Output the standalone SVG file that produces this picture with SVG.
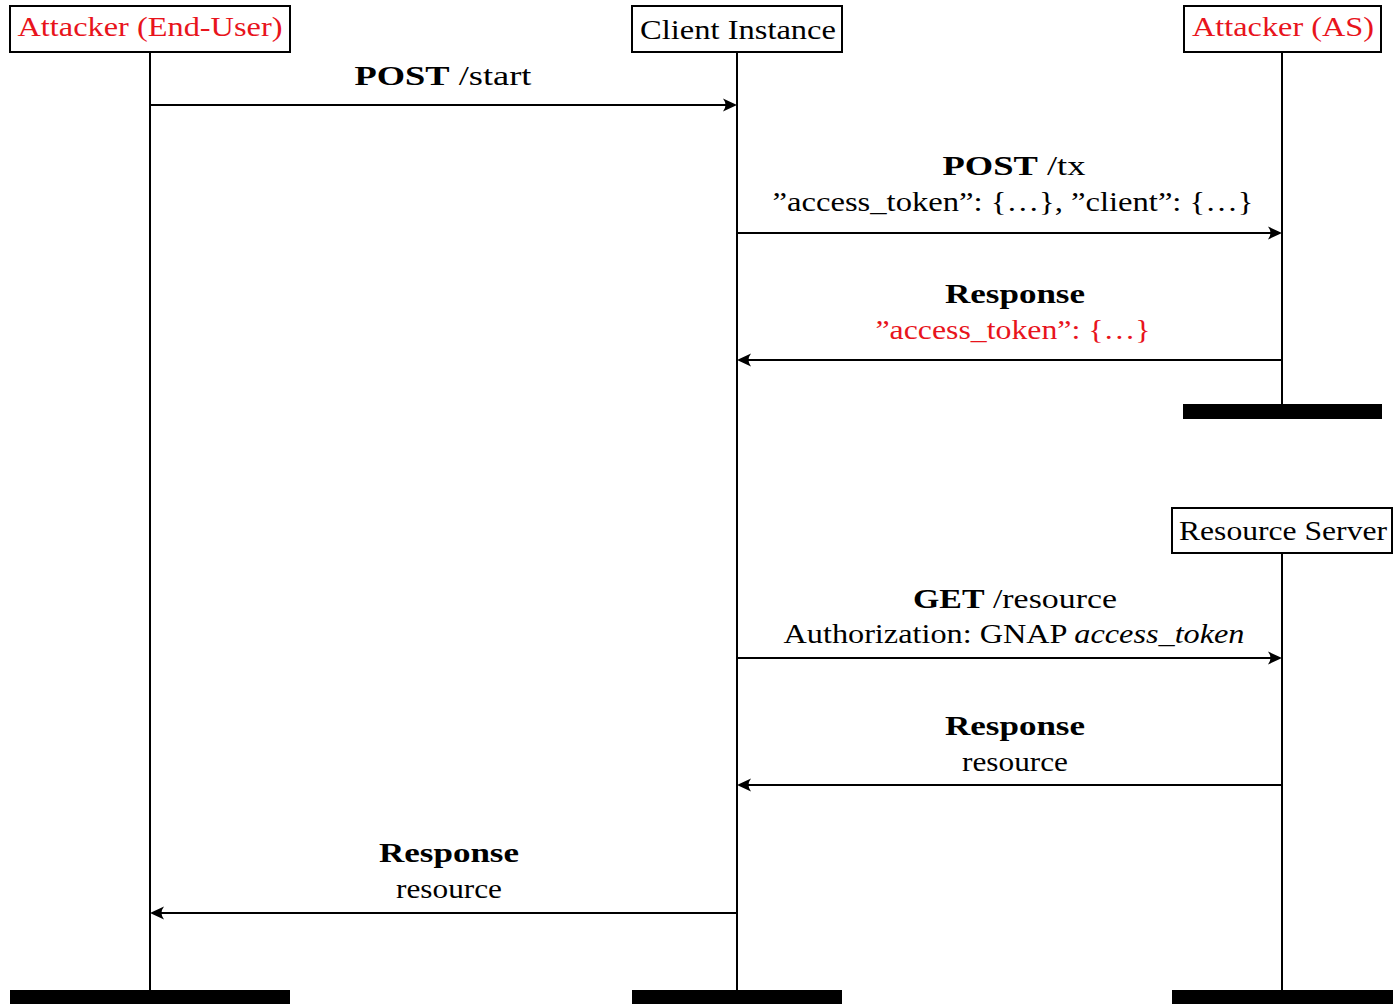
<svg xmlns="http://www.w3.org/2000/svg" width="1393" height="1004" viewBox="0 0 1393 1004">
<style>
  .box { fill: #fff; stroke: #000; stroke-width: 2; }
  .life { stroke: #000; stroke-width: 2; fill: none; }
  .bar { fill: #000; }
  .lbl { font-family: "Liberation Serif", "DejaVu Serif", serif; font-size: 28px; fill: #000; text-anchor: middle; }
  .red { fill: #e8141c; }
  .b { font-weight: bold; }
  .i { font-style: italic; }
  .msg { stroke: #000; stroke-width: 2; fill: none; marker-end: url(#arr); }
</style>
<defs>
  <marker id="arr" markerUnits="userSpaceOnUse" markerWidth="24" markerHeight="16" viewBox="-12 -8 24 16" refX="0" refY="0" orient="auto" overflow="visible">
    <path d="M4,0 L-10,-6.5 Q-5,0 -10,6.5 Z" fill="#000"/>
  </marker>
</defs>
<rect width="1393" height="1004" fill="#fff"/>

<g id="lifelines">
  <line class="life" x1="150" y1="52" x2="150" y2="990"/>
  <line class="life" x1="737" y1="52" x2="737" y2="990"/>
  <line class="life" x1="1282" y1="52" x2="1282" y2="404"/>
  <line class="life" x1="1282" y1="553" x2="1282" y2="990"/>
</g>

<g id="attacker-enduser">
  <rect class="box" x="10" y="6" width="280" height="46"/>
  <text class="lbl red" x="150" y="36" textLength="265" lengthAdjust="spacingAndGlyphs">Attacker (End-User)</text>
  <rect class="bar" x="10" y="990" width="280" height="14"/>
</g>
<g id="client-instance">
  <rect class="box" x="632" y="6" width="210" height="46"/>
  <text class="lbl" x="738" y="39" textLength="196" lengthAdjust="spacingAndGlyphs">Client Instance</text>
  <rect class="bar" x="632" y="990" width="210" height="14"/>
</g>
<g id="attacker-as">
  <rect class="box" x="1184" y="6" width="197" height="46"/>
  <text class="lbl red" x="1283" y="36" textLength="182" lengthAdjust="spacingAndGlyphs">Attacker (AS)</text>
  <rect class="bar" x="1183" y="404" width="199" height="15"/>
</g>
<g id="resource-server">
  <rect class="box" x="1172" y="508" width="220" height="45"/>
  <text class="lbl" x="1283" y="540" textLength="208" lengthAdjust="spacingAndGlyphs">Resource Server</text>
  <rect class="bar" x="1172" y="990" width="221" height="14"/>
</g>

<g id="connectors">
  <line class="msg" x1="150" y1="105" x2="733" y2="105"/>
  <text class="lbl" x="443" y="85" textLength="177" lengthAdjust="spacingAndGlyphs"><tspan class="b">POST</tspan> /start</text>

  <line class="msg" x1="737" y1="233" x2="1278" y2="233"/>
  <text class="lbl" x="1014" y="175" textLength="143" lengthAdjust="spacingAndGlyphs"><tspan class="b">POST</tspan> /tx</text>
  <text class="lbl" x="1013" y="211" textLength="481" lengthAdjust="spacingAndGlyphs">”access_token”: {…}, ”client”: {…}</text>

  <line class="msg" x1="1282" y1="360" x2="741" y2="360"/>
  <text class="lbl b" x="1015" y="303" textLength="140" lengthAdjust="spacingAndGlyphs">Response</text>
  <text class="lbl red" x="1013" y="339" textLength="275" lengthAdjust="spacingAndGlyphs">”access_token”: {…}</text>

  <line class="msg" x1="737" y1="658" x2="1278" y2="658"/>
  <text class="lbl" x="1015" y="608" textLength="204" lengthAdjust="spacingAndGlyphs"><tspan class="b">GET</tspan> /resource</text>
  <text class="lbl" x="1014" y="643" textLength="461" lengthAdjust="spacingAndGlyphs">Authorization: GNAP <tspan class="i">access_token</tspan></text>

  <line class="msg" x1="1282" y1="785" x2="741" y2="785"/>
  <text class="lbl b" x="1015" y="735" textLength="140" lengthAdjust="spacingAndGlyphs">Response</text>
  <text class="lbl" x="1015" y="771" textLength="106" lengthAdjust="spacingAndGlyphs">resource</text>

  <line class="msg" x1="737" y1="913" x2="154" y2="913"/>
  <text class="lbl b" x="449" y="862" textLength="140" lengthAdjust="spacingAndGlyphs">Response</text>
  <text class="lbl" x="449" y="898" textLength="106" lengthAdjust="spacingAndGlyphs">resource</text>
</g>
</svg>
